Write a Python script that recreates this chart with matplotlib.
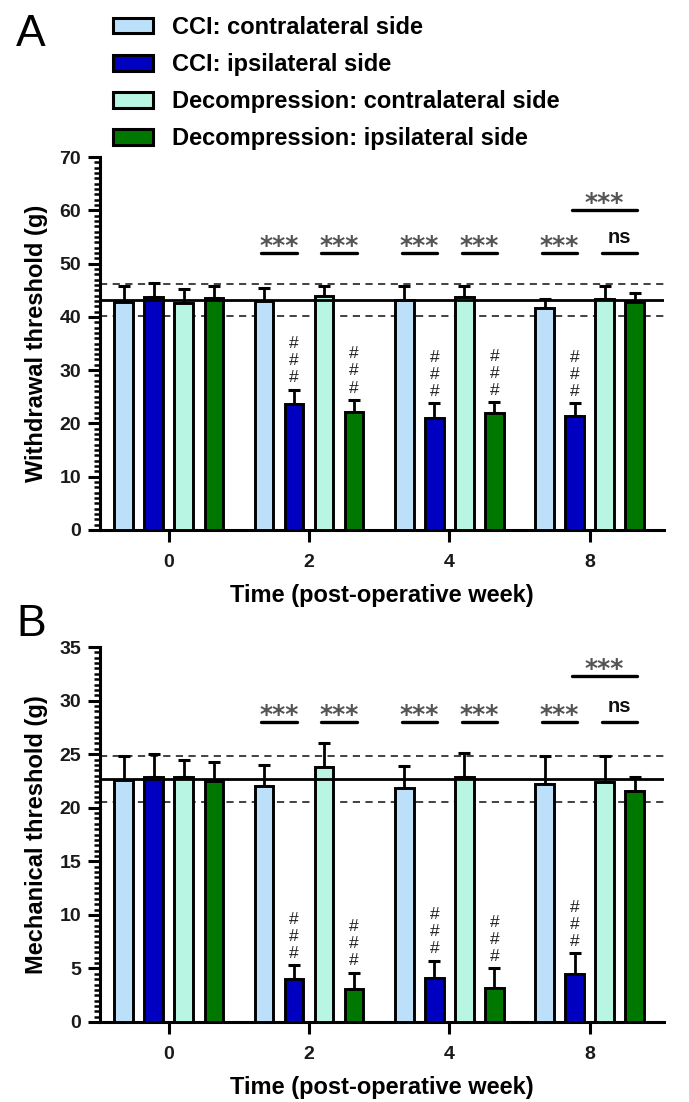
import numpy as np
import matplotlib.pyplot as plt
from matplotlib.patches import Patch

plt.rcParams['font.family'] = ['Liberation Sans', 'DejaVu Sans']

# data
weeks = ["0", "2", "4", "8"]
series_names = [
    "CCI: contralateral side",
    "CCI: ipsilateral side",
    "Decompression: contralateral side",
    "Decompression: ipsilateral side",
]
series_colors = ["#bde0fa", "#0000c0", "#b8f5e2", "#007800"]

# panel A - withdrawal threshold (g), mean and upper SEM
withdrawal_mean = [
    [42.8, 43.0, 43.2, 41.6],
    [43.7, 23.6, 21.0, 21.4],
    [42.6, 43.9, 43.7, 43.3],
    [43.5, 22.1, 21.9, 42.8],
]
withdrawal_err = [
    [3.0, 2.4, 2.6, 1.7],
    [2.6, 2.7, 2.8, 2.4],
    [2.6, 1.9, 2.1, 2.5],
    [2.3, 2.3, 2.1, 1.7],
]
withdrawal_ref = [43.2, 40.2, 46.2]   # baseline mean, lower, upper

# panel B - mechanical threshold (g)
mechanical_mean = [
    [22.6, 22.0, 21.8, 22.2],
    [22.9, 4.0, 4.1, 4.5],
    [22.9, 23.8, 22.9, 22.4],
    [22.5, 3.1, 3.2, 21.6],
]
mechanical_err = [
    [2.2, 2.0, 2.1, 2.6],
    [2.1, 1.3, 1.6, 1.9],
    [1.6, 2.2, 2.2, 2.4],
    [1.8, 1.5, 1.8, 1.3],
]
mechanical_ref = [22.7, 20.5, 24.8]

# (week, bar a, bar b, height, label)
withdrawal_sig = [
    (1, 0, 1, 52.0, "***"), (1, 2, 3, 52.0, "***"),
    (2, 0, 1, 52.0, "***"), (2, 2, 3, 52.0, "***"),
    (3, 0, 1, 52.0, "***"), (3, 2, 3, 52.0, "ns"),
    (3, 1, 3, 60.0, "***"),
]
mechanical_sig = [
    (1, 0, 1, 28.0, "***"), (1, 2, 3, 28.0, "***"),
    (2, 0, 1, 28.0, "***"), (2, 2, 3, 28.0, "***"),
    (3, 0, 1, 28.0, "***"), (3, 2, 3, 28.0, "ns"),
    (3, 1, 3, 32.3, "***"),
]
# (series, week) with ### vs baseline
hash_marks = [(1, 1), (1, 2), (1, 3), (3, 1), (3, 2)]

BAR_STEP = 0.214
BAR_WIDTH = 0.132
LW = 2.2


def bar_x(series, week):
    return week + (series - 1.5) * BAR_STEP


def draw_panel(ax, means, errs, ref, sig, ymax, major, minor, ylabel):
    x = np.arange(len(weeks))
    for i, (m, e) in enumerate(zip(means, errs)):
        xs = x + (i - 1.5) * BAR_STEP
        ax.errorbar(xs, m, yerr=[np.zeros(len(e)), e], fmt='none', ecolor='black',
                    elinewidth=2.0, capsize=4.3, capthick=2.2, zorder=2)
        ax.bar(xs, m, width=BAR_WIDTH, color=series_colors[i], edgecolor='black',
               linewidth=2.1, zorder=3)

    ax.axhline(ref[0], color='black', lw=2.0, zorder=4)
    for r in ref[1:]:
        ax.axhline(r, color='#333333', lw=1.3, ls=(0, (4, 3)), zorder=1)

    for week, a, b, h, label in sig:
        x0 = bar_x(a, week) - 0.02
        x1 = bar_x(b, week) + 0.02
        ax.plot([x0, x1], [h, h], color='black', lw=2.4, solid_capstyle='round',
                clip_on=False, zorder=5)
        if label == "ns":
            ax.annotate(label, ((x0 + x1) / 2, h), xytext=(0, 4), textcoords='offset points',
                        ha='center', va='bottom', fontsize=14.5, fontweight='bold', color='#111111')
        else:
            ax.annotate(label, ((x0 + x1) / 2, h), xytext=(0, -3.5), textcoords='offset points',
                        ha='center', va='bottom', fontsize=18, fontweight='bold',
                        color='#555555', family='DejaVu Sans')

    for s, w in hash_marks:
        top = means[s][w] + errs[s][w]
        for k in range(3):
            ax.annotate("#", (bar_x(s, w), top), xytext=(0, 8.6 + 12.3 * k),
                        textcoords='offset points', ha='center', va='center',
                        fontsize=12.5, color='#222222')

    ax.set_xlim(-0.49, 3.53)
    ax.set_ylim(0, ymax)
    ax.set_xticks(x)
    ax.set_xticklabels(weeks)
    ax.set_yticks(np.arange(0, ymax + 0.01, major))
    ax.set_yticks(np.arange(0, ymax + 0.01, minor), minor=True)
    for side in ['top', 'right']:
        ax.spines[side].set_visible(False)
    for side in ['left', 'bottom']:
        ax.spines[side].set_linewidth(LW)
    ax.tick_params(which='major', length=8.6, width=LW, labelsize=14, color='black')
    ax.tick_params(axis='y', which='major', pad=5)
    ax.tick_params(axis='x', which='major', pad=9)
    ax.tick_params(which='minor', length=4.3, width=1.8)
    ax.tick_params(axis='x', which='minor', length=0)
    for lab in ax.get_xticklabels() + ax.get_yticklabels():
        lab.set_fontweight('bold')
        lab.set_color('#1a1a1a')
    ax.set_xlabel("Time (post-operative week)", fontsize=17, fontweight='bold', labelpad=9)
    ax.set_ylabel(ylabel, fontsize=17, fontweight='bold', labelpad=8)


fig = plt.figure(figsize=(6.89, 11.02), dpi=100)
W, H = 689, 1102
ax_a = fig.add_axes([100 / W, 1 - 530 / H, 564 / W, 373 / H])
ax_b = fig.add_axes([100 / W, 1 - 1022 / H, 564 / W, 375 / H])

draw_panel(ax_a, withdrawal_mean, withdrawal_err, withdrawal_ref, withdrawal_sig,
           70, 10, 1, "Withdrawal threshold (g)")
draw_panel(ax_b, mechanical_mean, mechanical_err, mechanical_ref, mechanical_sig,
           35, 5, 0.5, "Mechanical threshold (g)")

fig.text(16 / W, 1 - 14 / H, "A", fontsize=32, va='top', ha='left')
fig.text(16 / W, 1 - 604 / H, "B", fontsize=32, va='top', ha='left')

handles = [Patch(facecolor=c, edgecolor='black', linewidth=2.2) for c in series_colors]
fig.legend(handles, series_names, loc='upper left', bbox_to_anchor=(113 / W, 1 - 16 / H),
           frameon=False, prop={'weight': 'bold', 'size': 17},
           handlelength=1.7, handleheight=0.63, handletextpad=0.8,
           labelspacing=0.6, borderpad=0, borderaxespad=0)

fig.savefig("out.png", dpi=100)
